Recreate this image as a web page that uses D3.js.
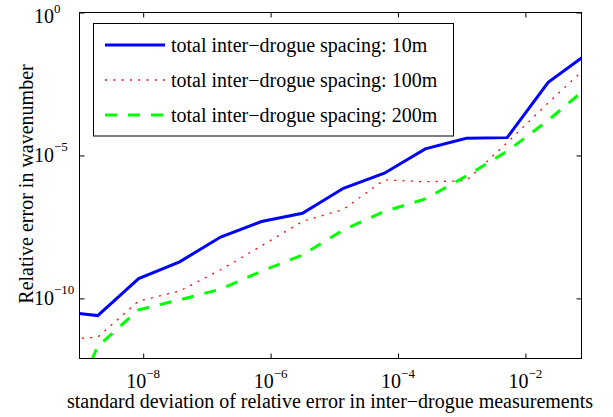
<!DOCTYPE html>
<html>
<head>
<meta charset="utf-8">
<script src="https://cdn.jsdelivr.net/npm/d3@7"></script>
<style>
  body { margin: 0; background: #fff; }
</style>
</head>
<body>
<div id="chart_container"></div>
<script>
// Global Variables

const svgWidth = 613
const svgHeight = 417
const plotLeft = 79.5
const plotRight = 581.5
const plotTop = 12.5
const plotBottom = 358.5
const fontFamily = "'Liberation Serif', 'Times New Roman', 'DejaVu Serif', serif"
const fontSize = "20px"
const supSize = "13px"
const tickLen = 5

// Data

const sigma = [1e-10, 4.39e-10, 1.93e-9, 8.48e-9, 3.73e-8, 1.64e-7, 7.20e-7, 3.16e-6,
               1.39e-5, 6.11e-5, 2.68e-4, 1.18e-3, 5.18e-3, 2.28e-2, 1e-1]
const spacing10 = [5.0e-11, 3.6e-11, 2.5e-11, 4.9e-10, 1.9e-9, 1.4e-8, 4.9e-8, 9.5e-8,
                   7.1e-7, 2.4e-6, 1.7e-5, 4.0e-5, 4.2e-5, 3.6e-3, 4.0e-2]
const spacing100 = [2.5e-12, 3.5e-12, 4.4e-12, 8.1e-11, 1.8e-10, 1.0e-9, 6.9e-9, 4.9e-8,
                    1.3e-7, 1.4e-6, 1.2e-6, 1.3e-6, 2.8e-5, 6.9e-4, 1.5e-2]
const spacing200 = [1e-16, 1e-15, 2.1e-12, 4.0e-11, 8.9e-11, 2.1e-10, 8.9e-10, 3.3e-9,
                    2.5e-8, 1.1e-7, 3.0e-7, 1.9e-6, 1.4e-5, 1.7e-4, 2.7e-3]
const seriesNames = ["total inter\u2212drogue spacing: 10m",
                     "total inter\u2212drogue spacing: 100m",
                     "total inter\u2212drogue spacing: 200m"]
const xTicks = [1e-8, 1e-6, 1e-4, 1e-2]
const yTicks = [1e-10, 1e-5, 1]
const xLimits = [1e-9, 0.076]
const yLimits = [7.9e-13, 1]

const seriesStyle = [
  { color: "#0000ff", width: 3, dash: null },
  { color: "#ff0000", width: 1.3, dash: "2,6.3" },
  { color: "#00ff00", width: 3, dash: "12,11" }
]
const seriesData = [spacing10, spacing100, spacing200]

// Scales

const x = d3.scaleLog().domain(xLimits).range([plotLeft, plotRight])
const y = d3.scaleLog().domain(yLimits).range([plotBottom, plotTop])

const svg = d3.select("#chart_container").append("svg")
  .attr("width", svgWidth)
  .attr("height", svgHeight)
  .attr("font-family", fontFamily)
  .style("font-family", fontFamily)

svg.append("defs").append("clipPath")
  .attr("id", "plotClip")
  .append("rect")
  .attr("x", plotLeft)
  .attr("y", plotTop)
  .attr("width", plotRight - plotLeft)
  .attr("height", plotBottom - plotTop)

// power-of-ten label with superscript
function powLabel(sel, v) {
  const e = Math.round(Math.log10(v))
  sel.append("tspan").text("10")
  sel.append("tspan")
    .attr("dy", -10.5)
    .style("font-size", supSize)
    .text(e < 0 ? "\u2212" + (-e) : String(e))
}

// Lines

const line = d3.line()
  .x((d, i) => x(sigma[i]))
  .y(d => y(d))

const lines = svg.append("g").attr("clip-path", "url(#plotClip)")
seriesData.forEach((s, i) => {
  lines.append("path")
    .datum(s)
    .attr("fill", "none")
    .attr("stroke", seriesStyle[i].color)
    .attr("stroke-width", seriesStyle[i].width)
    .attr("stroke-dasharray", seriesStyle[i].dash)
    .attr("d", line)
})

// Axes (ticks pointing inward on all four sides)

svg.append("g")
  .attr("transform", `translate(0, ${plotBottom})`)
  .call(d3.axisBottom(x).tickValues(xTicks).tickSize(-tickLen).tickFormat(""))
  .call(g => g.select(".domain").remove())
svg.append("g")
  .attr("transform", `translate(0, ${plotTop})`)
  .call(d3.axisTop(x).tickValues(xTicks).tickSize(-tickLen).tickFormat(""))
  .call(g => g.select(".domain").remove())
svg.append("g")
  .attr("transform", `translate(${plotLeft}, 0)`)
  .call(d3.axisLeft(y).tickValues(yTicks).tickSize(-tickLen).tickFormat(""))
  .call(g => g.select(".domain").remove())
svg.append("g")
  .attr("transform", `translate(${plotRight}, 0)`)
  .call(d3.axisRight(y).tickValues(yTicks).tickSize(-tickLen).tickFormat(""))
  .call(g => g.select(".domain").remove())
svg.selectAll(".tick line").attr("stroke", "#000")

svg.append("rect")
  .attr("x", plotLeft)
  .attr("y", plotTop)
  .attr("width", plotRight - plotLeft)
  .attr("height", plotBottom - plotTop)
  .attr("fill", "none")
  .attr("stroke", "#000")
  .attr("stroke-width", 1)

// tick labels

svg.selectAll(".xlab")
  .data(xTicks)
  .join("text")
  .attr("class", "xlab")
  .attr("x", d => x(d))
  .attr("y", plotBottom + 29.5)
  .attr("text-anchor", "middle")
  .style("font-family", fontFamily)
  .style("font-size", fontSize)
  .each(function (d) { powLabel(d3.select(this), d) })

svg.selectAll(".ylab")
  .data(yTicks)
  .join("text")
  .attr("class", "ylab")
  .attr("x", plotLeft - 45.5)
  .attr("y", d => Math.max(y(d) + 6.5, 23.3))
  .style("font-family", fontFamily)
  .style("font-size", fontSize)
  .each(function (d) { powLabel(d3.select(this), d) })

// axis titles

svg.append("text")
  .attr("x", 330)
  .attr("y", 408)
  .attr("text-anchor", "middle")
  .style("font-family", fontFamily)
  .style("font-size", fontSize)
  .text("standard deviation of relative error in inter\u2212drogue measurements")

svg.append("text")
  .attr("transform", "rotate(-90)")
  .attr("x", -184)
  .attr("y", 33)
  .attr("text-anchor", "middle")
  .style("font-family", fontFamily)
  .style("font-size", fontSize)
  .text("Relative error in wavenumber")

// Legend

const legend = svg.append("g")
legend.append("rect")
  .attr("x", 93.5)
  .attr("y", 23.5)
  .attr("width", 360)
  .attr("height", 112.5)
  .attr("fill", "#fff")
  .attr("stroke", "#000")
  .attr("stroke-width", 1)

seriesNames.forEach((name, i) => {
  const cy = 45 + i * 35
  legend.append("line")
    .attr("x1", 105)
    .attr("x2", 165)
    .attr("y1", cy)
    .attr("y2", cy)
    .attr("stroke", seriesStyle[i].color)
    .attr("stroke-width", seriesStyle[i].width)
    .attr("stroke-dasharray", seriesStyle[i].dash)
  legend.append("text")
    .attr("x", 171)
    .attr("y", cy + 6.5)
    .style("font-family", fontFamily)
    .style("font-size", fontSize)
    .text(name)
})
</script>
</body>
</html>
